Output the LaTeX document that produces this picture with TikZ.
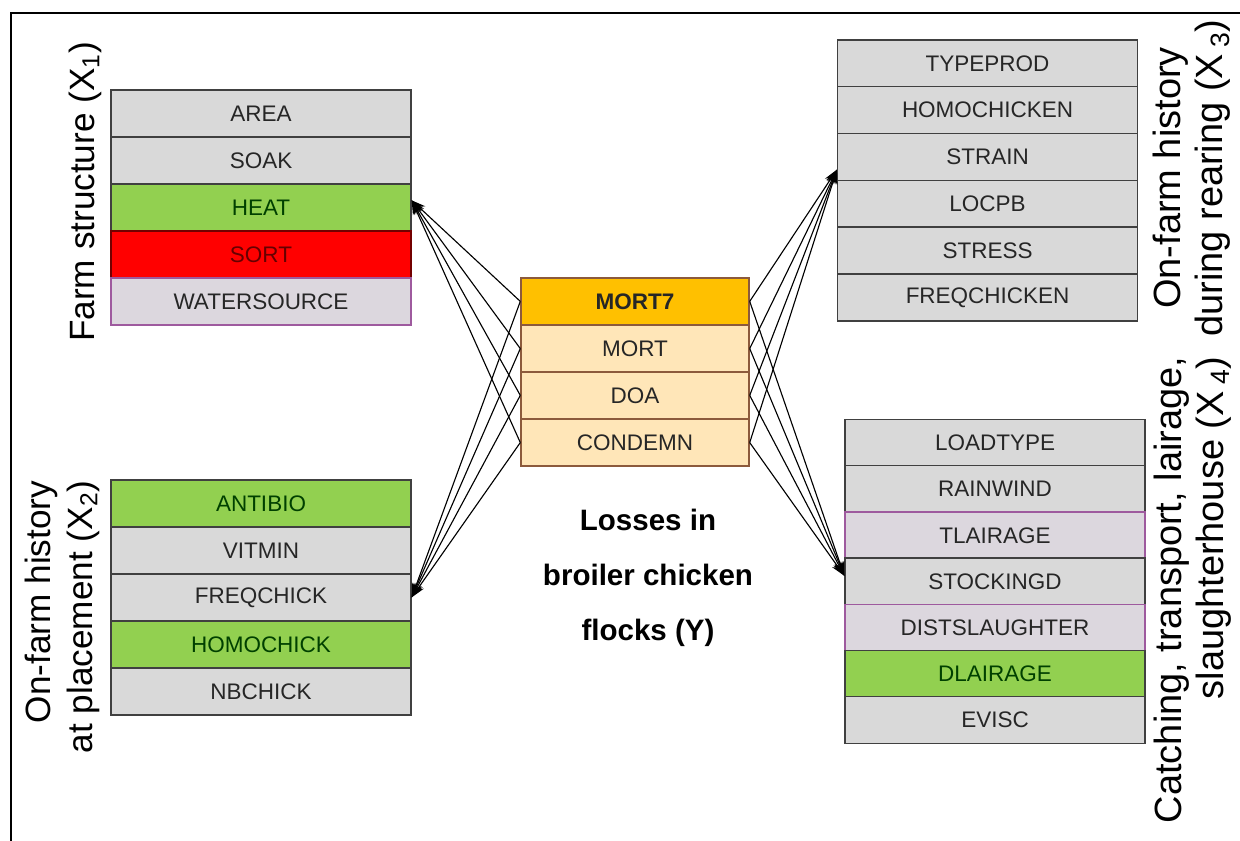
\documentclass[tikz,border=0pt]{standalone}
\usepackage{fontspec}
\setmainfont{Liberation Sans}
\usetikzlibrary{arrows.meta}

\definecolor{cellgrey}{HTML}{D9D9D9}
\definecolor{cellpale}{HTML}{DCD7DE}
\definecolor{cellgreen}{HTML}{92D050}
\definecolor{cellred}{HTML}{FF0000}
\definecolor{cellorange}{HTML}{FFC000}
\definecolor{cellcream}{HTML}{FFE6B8}
\definecolor{edgepurple}{HTML}{9E5A9E}
\definecolor{edgebrown}{HTML}{8C5A3C}

\begin{document}
\begin{tikzpicture}[
    cell/.style={draw=#1, line width=1pt, minimum width=7.5cm, minimum height=1.175cm, inner sep=0pt, font=\fontsize{16}{18}\selectfont},
    plain/.style={cell=black!75, fill=cellgrey, text=black!85},
    pale/.style={cell=edgepurple, fill=cellpale, text=black!85},
    good/.style={cell=black!75, fill=cellgreen, text=green!25!black},
    bad/.style={cell=red!45!black, fill=cellred, text=red!40!black},
    loss/.style={cell=edgebrown, fill=cellcream, text=black!85, minimum width=5.7cm},
    title/.style={rotate=90, font=\fontsize{#1}{30}\selectfont},
    arrow/.style={-{Stealth[length=10pt, width=7pt]}, thick}
]
    \useasboundingbox (0,0) rectangle (31,21.025);
    \draw[line width=1.5pt] (0.275,0) -- (0.275,20.7) -- (31,20.7);

    % farm structure
    \node[plain] (area) at (6.525,18.19) {AREA};
    \node[plain] (soak) at (6.525,17.01) {SOAK};
    \node[good] (heat) at (6.525,15.84) {HEAT};
    \node[bad] (sort) at (6.525,14.66) {SORT};
    \node[pale] (watersource) at (6.525,13.49) {WATERSOURCE};

    % history at placement
    \node[good] (antibio) at (6.525,8.44) {ANTIBIO};
    \node[plain] (vitmin) at (6.525,7.26) {VITMIN};
    \node[plain] (freqchick) at (6.525,6.09) {FREQCHICK};
    \node[good] (homochick) at (6.525,4.91) {HOMOCHICK};
    \node[plain] (nbchick) at (6.525,3.74) {NBCHICK};

    % losses
    \node[loss, fill=cellorange, font=\fontsize{16}{18}\selectfont\bfseries] (mort7) at (15.875,13.49) {MORT7};
    \node[loss] (mort) at (15.875,12.31) {MORT};
    \node[loss] (doa) at (15.875,11.14) {DOA};
    \node[loss] (condemn) at (15.875,9.96) {CONDEMN};

    % history during rearing
    \node[plain] (typeprod) at (24.69,19.44) {TYPEPROD};
    \node[plain] (homochicken) at (24.69,18.27) {HOMOCHICKEN};
    \node[plain] (strain) at (24.69,17.10) {STRAIN};
    \node[plain] (locpb) at (24.69,15.93) {LOCPB};
    \node[plain] (stress) at (24.69,14.76) {STRESS};
    \node[plain] (freqchicken) at (24.69,13.585) {FREQCHICKEN};

    % catching, transport, lairage
    \node[plain] (loadtype) at (24.875,9.95) {LOADTYPE};
    \node[plain] (rainwind) at (24.875,8.795) {RAINWIND};
    \node[pale] (tlairage) at (24.875,7.64) {TLAIRAGE};
    \node[plain] (stockingd) at (24.875,6.49) {STOCKINGD};
    \node[pale] (distslaughter) at (24.875,5.33) {DISTSLAUGHTER};
    \node[good] (dlairage) at (24.875,4.18) {DLAIRAGE};
    \node[plain] (evisc) at (24.875,3.025) {EVISC};

    \foreach \src in {mort7, mort, doa, condemn} {
        \draw[arrow] (\src.west) -- ([yshift=5pt]heat.east);
        \draw[arrow] (\src.west) -- (freqchick.east);
        \draw[arrow] (\src.east) -- ([yshift=-9pt]strain.west);
        \draw[arrow] (\src.east) -- ([yshift=4pt]stockingd.west);
    }

    \node[title=25] (xone) at (2.125,16.225) {Farm structure (X\textsubscript{1})};
    \node[title=25, align=right] (xtwo) at (1.55,5.6) {On-farm history\\at placement (X\textsubscript{2})};
    \node[title=27, align=center] (xthree) at (29.8,16.575) {On-farm history\\during rearing (X\,\textsubscript{3})};
    \node[title=27, align=right] (xfour) at (29.82,6.275) {Catching, transport, lairage,\\slaughterhouse (X\,\textsubscript{4})};
    \node[font=\fontsize{21}{39}\selectfont\bfseries, align=center] (losses) at (16.2,6.575) {Losses in\\broiler chicken\\flocks (Y)};
\end{tikzpicture}
\end{document}
